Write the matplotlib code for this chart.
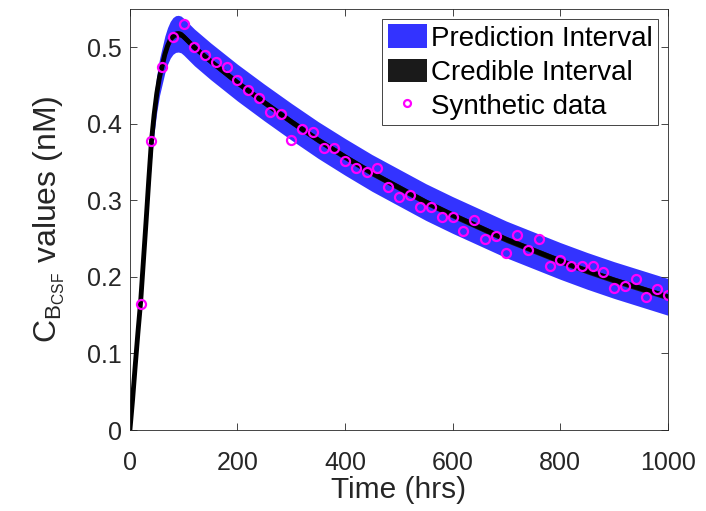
import numpy as np
import matplotlib
matplotlib.use('Agg')
from matplotlib import pyplot as plt
from matplotlib.patches import Patch
from matplotlib.lines import Line2D

plt.rcParams['font.family'] = ['Liberation Sans', 'DejaVu Sans']
plt.rcParams['mathtext.fontset'] = 'custom'
plt.rcParams['mathtext.rm'] = 'Liberation Sans'
plt.rcParams['mathtext.it'] = 'Liberation Sans'

# model curve
t_curve = [0, 5, 10, 15, 20, 25, 30, 35, 40, 45, 50, 55, 60, 65, 70, 75, 80, 85, 90, 95,
           100, 110, 120, 150, 200, 250, 300, 350, 400, 450, 500, 550, 600, 650, 700,
           750, 800, 850, 900, 950, 1000]
c_curve = [0.0, 0.04, 0.085, 0.128, 0.168, 0.22, 0.272, 0.326, 0.377, 0.412, 0.440, 0.461,
           0.476, 0.491, 0.502, 0.510, 0.515, 0.5175, 0.518, 0.517,
           0.514, 0.507, 0.500, 0.482, 0.454, 0.428, 0.403, 0.379, 0.357, 0.336, 0.317,
           0.298, 0.281, 0.265, 0.249, 0.235, 0.221, 0.208, 0.196, 0.185, 0.174]
# half widths of the prediction interval and credible interval
pi_half = [0.0, 0.004, 0.008, 0.012, 0.016, 0.018, 0.02, 0.022] + [0.024] * 33
ci_half = [0.0, 0.002, 0.003, 0.004] + [0.004] * 37

# synthetic data
t_data = list(range(20, 1001, 20))
c_data = [0.165, 0.378, 0.475, 0.514, 0.531, 0.500, 0.490, 0.481, 0.474, 0.457,
          0.445, 0.434, 0.415, 0.413, 0.379, 0.394, 0.389, 0.368, 0.369, 0.352,
          0.342, 0.337, 0.343, 0.317, 0.305, 0.307, 0.292, 0.292, 0.279, 0.278,
          0.260, 0.275, 0.249, 0.253, 0.231, 0.255, 0.235, 0.250, 0.214, 0.222,
          0.215, 0.214, 0.215, 0.207, 0.185, 0.188, 0.198, 0.174, 0.184, 0.177]

t = np.array(t_curve)
c = np.array(c_curve)
pw = np.array(pi_half)
cw = np.array(ci_half)

fig = plt.figure(figsize=(7.06, 5.11), dpi=100)
ax = fig.add_axes([0.184, 0.1585, 0.762, 0.8235])

blue = '#3333ff'
ax.fill_between(t, c - pw, c + pw, color=blue, lw=0)
ax.fill_between(t, c - cw, c + cw, color='#1a1a1a', lw=0)
ax.plot(t, c, color='k', lw=3.5, solid_capstyle='butt')
ax.plot(t_data, c_data, 'o', mfc='none', mec='#ff00ff', mew=1.6, ms=6.5)

ax.set_xlim(0, 1000)
ax.set_ylim(0, 0.55)
ax.set_xticks(range(0, 1001, 200))
ax.set_yticks([0, 0.1, 0.2, 0.3, 0.4, 0.5])
ax.set_yticklabels(['0', '0.1', '0.2', '0.3', '0.4', '0.5'])
ax.tick_params(direction='in', length=5, width=0.6, top=True, right=True,
               labelsize=18, colors='#262626')
ax.tick_params(axis='x', pad=15)
ax.tick_params(axis='y', pad=6)
for s in ax.spines.values():
    s.set_color('#262626')
    s.set_linewidth(0.6)

ax.set_xlabel('Time (hrs)', fontsize=21.5, color='#262626', labelpad=1)
ax.set_ylabel(r'$\mathrm{C_{B_{CSF}}}$ values (nM)', fontsize=23, color='#262626', labelpad=14)

handles = [Patch(facecolor=blue, edgecolor='none'),
           Patch(facecolor='#1a1a1a', edgecolor='none'),
           Line2D([], [], ls='none', marker='o', mfc='none', mec='#ff00ff', mew=1.6, ms=5)]
leg = ax.legend(handles, ['Prediction Interval', 'Credible Interval', 'Synthetic data'],
                loc='upper right', bbox_to_anchor=(0.932, 0.963),
                bbox_transform=fig.transFigure, fontsize=20, fancybox=False,
                framealpha=1, edgecolor='#262626', handlelength=1.4, handleheight=0.9,
                handletextpad=0.15, labelspacing=0.25, borderpad=0.2, borderaxespad=0)
leg.get_frame().set_linewidth(0.6)

fig.savefig('out.png', dpi=100)
